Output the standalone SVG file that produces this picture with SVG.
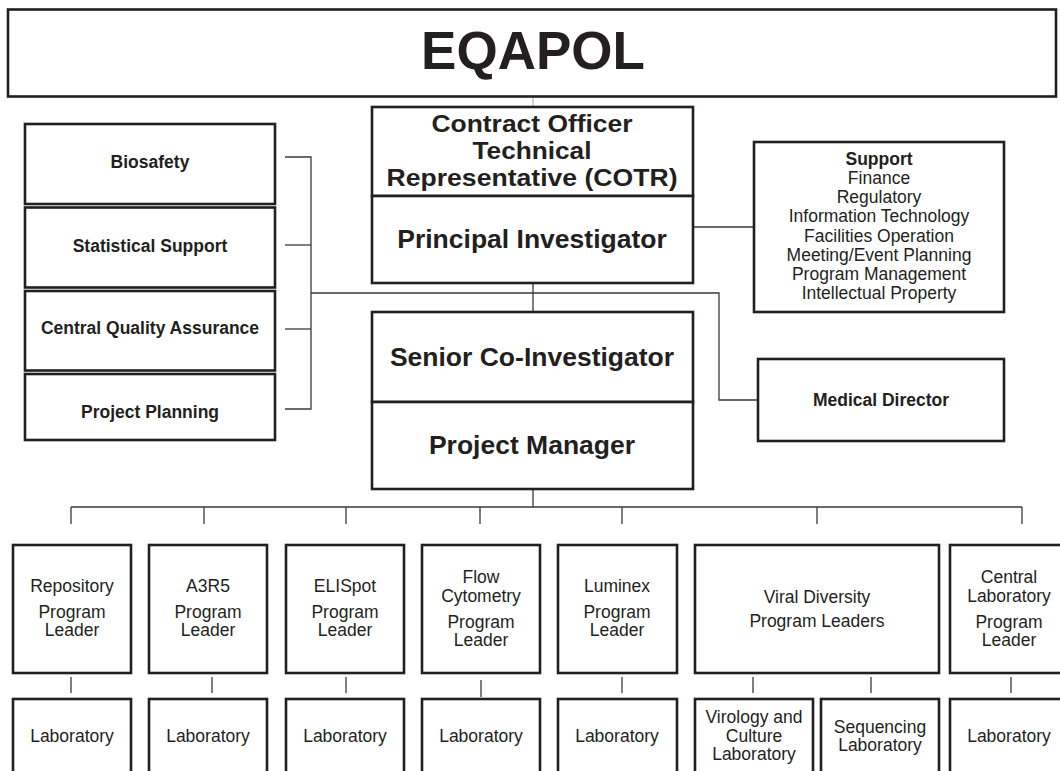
<svg xmlns="http://www.w3.org/2000/svg" width="1060" height="771" viewBox="0 0 1060 771">
<style>
.box{fill:#fff;stroke:#231f20;stroke-width:2.6}
.ln{fill:none;stroke:#3a3a3a;stroke-width:1.3}
text{font-family:"Liberation Sans",Arial,sans-serif;fill:#231f20;text-anchor:middle}
.b17{font-size:17.5px;font-weight:bold}
.b26{font-size:26.5px;font-weight:bold}
.c24{font-size:24px;font-weight:bold}
.r17{font-size:17.5px}
</style>
<rect width="1060" height="771" fill="#fff"/>
<g id="connectors">
<line class="ln" x1="533" y1="97" x2="533" y2="107" stroke-opacity="0.35"/>
<polyline class="ln" points="285,157 311,157 311,409 285,409"/>
<line class="ln" x1="285" y1="245" x2="311" y2="245"/>
<line class="ln" x1="285" y1="329" x2="311" y2="329"/>
<polyline class="ln" points="311,293 719,293 719,400 758,400"/>
<line class="ln" x1="533" y1="283" x2="533" y2="312"/>
<line class="ln" x1="693" y1="227" x2="753" y2="227"/>
<line class="ln" x1="533" y1="489" x2="533" y2="507"/>
<line class="ln" x1="71" y1="507" x2="1022" y2="507"/>
<line class="ln" x1="71" y1="507" x2="71" y2="524"/>
<line class="ln" x1="204" y1="507" x2="204" y2="524"/>
<line class="ln" x1="346" y1="507" x2="346" y2="524"/>
<line class="ln" x1="480" y1="507" x2="480" y2="524"/>
<line class="ln" x1="622" y1="507" x2="622" y2="524"/>
<line class="ln" x1="817" y1="507" x2="817" y2="524"/>
<line class="ln" x1="1022" y1="507" x2="1022" y2="524"/>
<line class="ln" x1="71" y1="677" x2="71" y2="693"/>
<line class="ln" x1="212" y1="677" x2="212" y2="693"/>
<line class="ln" x1="346" y1="677" x2="346" y2="693"/>
<line class="ln" x1="481" y1="680" x2="481" y2="697"/>
<line class="ln" x1="622" y1="677" x2="622" y2="693"/>
<line class="ln" x1="753" y1="677" x2="753" y2="693"/>
<line class="ln" x1="871" y1="677" x2="871" y2="693"/>
<line class="ln" x1="1011" y1="677" x2="1011" y2="693"/>
</g>
<g id="title"><rect class="box" x="8" y="9.5" width="1048" height="87"/><text x="533" y="69" style="font-size:53px;font-weight:bold">EQAPOL</text></g>
<g id="biosafety"><rect class="box" x="25" y="124" width="250" height="80"/><text class="b17" x="150" y="168">Biosafety</text></g>
<g id="statistical"><rect class="box" x="25" y="207.5" width="250" height="80"/><text class="b17" x="150" y="252">Statistical Support</text></g>
<g id="cqa"><rect class="box" x="25" y="291" width="250" height="79.5"/><text class="b17" x="150" y="334">Central Quality Assurance</text></g>
<g id="planning"><rect class="box" x="25" y="374" width="250" height="66"/><text class="b17" x="150" y="418">Project Planning</text></g>
<g id="cotr"><rect class="box" x="372" y="107" width="321" height="89"/><text class="c24" x="532" y="132" textLength="201" lengthAdjust="spacingAndGlyphs">Contract Officer</text><text class="c24" x="532" y="159" textLength="119" lengthAdjust="spacingAndGlyphs">Technical</text><text class="c24" x="532" y="186" textLength="291" lengthAdjust="spacingAndGlyphs">Representative (COTR)</text></g>
<g id="pi"><rect class="box" x="372" y="196" width="321" height="87"/><text class="b26" x="532" y="248">Principal Investigator</text></g>
<g id="sci"><rect class="box" x="372" y="312" width="321" height="90"/><text class="b26" x="532" y="366">Senior Co-Investigator</text></g>
<g id="pm"><rect class="box" x="372" y="402" width="321" height="87"/><text class="b26" x="532" y="454">Project Manager</text></g>
<g id="support"><rect class="box" x="754" y="142" width="250" height="170"/>
<text class="b17" x="879" y="165">Support</text>
<text class="r17" x="879" y="184">Finance</text>
<text class="r17" x="879" y="203">Regulatory</text>
<text class="r17" x="879" y="222">Information Technology</text>
<text class="r17" x="879" y="242">Facilities Operation</text>
<text class="r17" x="879" y="261">Meeting/Event Planning</text>
<text class="r17" x="879" y="280">Program Management</text>
<text class="r17" x="879" y="299">Intellectual Property</text></g>
<g id="medical"><rect class="box" x="758" y="359" width="246" height="82"/><text class="b17" x="881" y="406">Medical Director</text></g>
<g id="repository"><rect class="box" x="13" y="545" width="118" height="128"/><text class="r17" x="72" y="592">Repository</text><text class="r17" x="72" y="618">Program</text><text class="r17" x="72" y="636">Leader</text></g>
<g id="a3r5"><rect class="box" x="149" y="545" width="118" height="128"/><text class="r17" x="208" y="592">A3R5</text><text class="r17" x="208" y="618">Program</text><text class="r17" x="208" y="636">Leader</text></g>
<g id="elispot"><rect class="box" x="286" y="545" width="118" height="128"/><text class="r17" x="345" y="592">ELISpot</text><text class="r17" x="345" y="618">Program</text><text class="r17" x="345" y="636">Leader</text></g>
<g id="flow"><rect class="box" x="422" y="545" width="118" height="128"/><text class="r17" x="481" y="583">Flow</text><text class="r17" x="481" y="602">Cytometry</text><text class="r17" x="481" y="628">Program</text><text class="r17" x="481" y="646">Leader</text></g>
<g id="luminex"><rect class="box" x="558" y="545" width="119" height="128"/><text class="r17" x="617" y="592">Luminex</text><text class="r17" x="617" y="618">Program</text><text class="r17" x="617" y="636">Leader</text></g>
<g id="viral"><rect class="box" x="695" y="545" width="244" height="128"/><text class="r17" x="817" y="603">Viral Diversity</text><text class="r17" x="817" y="627">Program Leaders</text></g>
<g id="central"><rect class="box" x="950" y="545" width="120" height="128"/><text class="r17" x="1009" y="583">Central</text><text class="r17" x="1009" y="602">Laboratory</text><text class="r17" x="1009" y="628">Program</text><text class="r17" x="1009" y="646">Leader</text></g>
<g id="lab1"><rect class="box" x="13" y="699" width="118" height="90"/><text class="r17" x="72" y="742">Laboratory</text></g>
<g id="lab2"><rect class="box" x="149" y="699" width="118" height="90"/><text class="r17" x="208" y="742">Laboratory</text></g>
<g id="lab3"><rect class="box" x="286" y="699" width="118" height="90"/><text class="r17" x="345" y="742">Laboratory</text></g>
<g id="lab4"><rect class="box" x="422" y="699" width="118" height="90"/><text class="r17" x="481" y="742">Laboratory</text></g>
<g id="lab5"><rect class="box" x="558" y="699" width="119" height="90"/><text class="r17" x="617" y="742">Laboratory</text></g>
<g id="virology"><rect class="box" x="695" y="699" width="118" height="90"/><text class="r17" x="754" y="723">Virology and</text><text class="r17" x="754" y="742">Culture</text><text class="r17" x="754" y="760">Laboratory</text></g>
<g id="sequencing"><rect class="box" x="821" y="699" width="118" height="90"/><text class="r17" x="880" y="733">Sequencing</text><text class="r17" x="880" y="751">Laboratory</text></g>
<g id="lab8"><rect class="box" x="950" y="699" width="120" height="90"/><text class="r17" x="1009" y="742">Laboratory</text></g>
</svg>
